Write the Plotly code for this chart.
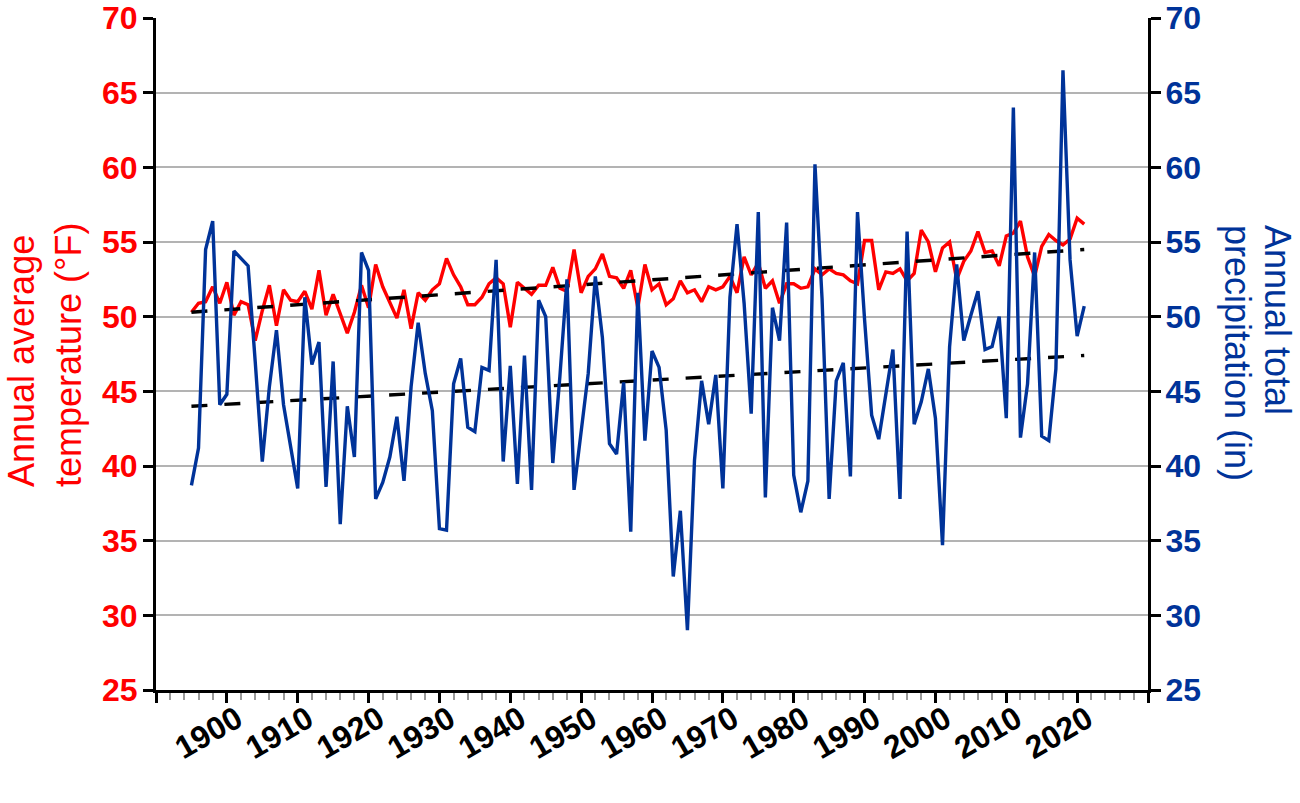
import plotly.graph_objects as go

# Annual values
years = list(range(1895, 2022))

temperature = [
    50.3, 50.9, 51.0, 52.0, 50.9, 52.3, 50.1, 51.0, 50.8, 48.4,
    50.4, 52.1, 49.4, 51.8, 51.1, 51.0, 51.7, 50.5, 53.1, 50.1,
    51.5, 50.2, 48.9, 50.3, 52.1, 50.6, 53.5, 52.0, 51.0, 49.9,
    51.8, 49.2, 51.6, 51.1, 51.8, 52.2, 53.9, 52.8, 52.0, 50.8,
    50.8, 51.3, 52.2, 52.6, 52.2, 49.3, 52.3, 51.9, 51.5, 52.1,
    52.1, 53.3, 51.9, 51.7, 54.5, 51.6, 52.7, 53.2, 54.2, 52.7,
    52.6, 51.9, 53.1, 50.6, 53.5, 51.8, 52.2, 50.8, 51.2, 52.4,
    51.6, 51.8, 51.0, 52.0, 51.8, 52.0, 52.7, 51.6, 54.0, 52.8,
    53.6, 51.9, 52.4, 50.9, 52.2, 52.2, 51.9, 52.0, 53.2, 52.8,
    53.2, 52.9, 52.8, 52.4, 52.2, 55.1, 55.1, 51.8, 53.0, 52.9,
    53.2, 52.4, 52.9, 55.8, 55.0, 53.0, 54.6, 55.0, 52.5, 53.7,
    54.4, 55.7, 54.3, 54.4, 53.4, 55.4, 55.6, 56.4, 54.0, 52.7,
    54.7, 55.5, 55.1, 54.8, 55.2, 56.6, 56.2,
]

precipitation = [
    38.7, 41.2, 54.5, 56.4, 44.1, 44.8, 54.4, 53.9, 53.4, 47.0,
    40.3, 45.3, 49.1, 44.1, 41.3, 38.5, 51.3, 46.8, 48.3, 38.6,
    47.0, 36.1, 44.0, 40.6, 54.3, 53.1, 37.8, 38.9, 40.6, 43.3,
    39.0, 45.3, 49.6, 46.2, 43.7, 35.8, 35.7, 45.5, 47.2, 42.6,
    42.3, 46.6, 46.4, 53.8, 40.3, 46.7, 38.8, 47.4, 38.4, 51.1,
    50.0, 40.2, 46.0, 52.5, 38.4, 42.4, 46.2, 52.7, 48.6, 41.5,
    40.8, 45.6, 35.6, 51.6, 41.7, 47.7, 46.6, 42.4, 32.6, 37.0,
    29.0, 40.4, 45.7, 42.8, 46.1, 38.5, 51.3, 56.2, 50.9, 43.5,
    57.0, 37.9, 50.6, 48.4, 56.3, 39.4, 36.9, 39.0, 60.2, 51.2,
    37.8, 45.7, 46.9, 39.3, 57.0, 49.8, 43.4, 41.8, 44.9, 47.8,
    37.8, 55.7, 42.8, 44.3, 46.5, 43.2, 34.7, 48.0, 53.5, 48.4,
    50.1, 51.7, 47.8, 48.0, 50.0, 43.2, 64.0, 41.9, 45.5, 54.3,
    42.0, 41.7, 46.5, 66.5, 53.8, 48.7, 50.7,
]

trend_years = [1895, 2021]
temperature_trend = [50.3, 54.5]
precipitation_trend = [44.0, 47.4]

value_ticks = list(range(25, 75, 5))
year_ticks = list(range(1890, 2040, 10))
year_labels = ["" if y in (1890, 2030) else str(y) for y in year_ticks]

RED = "#FF0000"
BLUE = "#003399"
FONT = "Liberation Sans"

fig = go.Figure()

fig.add_trace(go.Scatter(x=years, y=precipitation, mode="lines", yaxis="y2",
                         line=dict(color=BLUE, width=3.4)))
fig.add_trace(go.Scatter(x=years, y=temperature, mode="lines",
                         line=dict(color=RED, width=3.4)))
fig.add_trace(go.Scatter(x=trend_years, y=temperature_trend, mode="lines",
                         line=dict(color="black", width=3.4, dash="16px,17px")))
fig.add_trace(go.Scatter(x=trend_years, y=precipitation_trend, mode="lines",
                         line=dict(color="black", width=3.4, dash="16px,17px")))

fig.update_layout(
    width=1300,
    height=803,
    margin=dict(l=156, r=152, t=18, b=113),
    paper_bgcolor="white",
    plot_bgcolor="white",
    showlegend=False,
    font=dict(family=FONT),
    xaxis=dict(
        range=[1890, 2030],
        tickvals=year_ticks,
        ticktext=year_labels,
        tickangle=-30,
        ticks="outside",
        ticklen=10,
        tickwidth=3,
        tickcolor="black",
        tickfont=dict(family=FONT, size=32, color="black", weight="bold"),
        ticklabelstandoff=-15,
        ticklabelshift=10,
        showline=True,
        linecolor="black",
        linewidth=3,
        showgrid=False,
        zeroline=False,
        automargin=False,
        minor=dict(dtick=2, tick0=1890, ticks="outside", ticklen=7, tickwidth=1.5, tickcolor="#999999"),
    ),
    yaxis=dict(
        range=[25, 70],
        tickvals=value_ticks,
        ticks="outside",
        ticklen=10,
        tickwidth=3,
        tickcolor="black",
        tickfont=dict(family=FONT, size=32, color=RED, weight="bold"),
        ticklabelstandoff=-1,
        ticklabeloverflow="allow",
        showline=True,
        linecolor="black",
        linewidth=3,
        showgrid=True,
        gridcolor="#B3B3B3",
        gridwidth=2,
        zeroline=False,
        automargin=False,
    ),
    yaxis2=dict(
        range=[25, 70],
        overlaying="y",
        side="right",
        tickvals=value_ticks,
        ticks="outside",
        ticklen=10,
        tickwidth=3,
        tickcolor="black",
        tickfont=dict(family=FONT, size=32, color=BLUE, weight="bold"),
        ticklabelstandoff=-2,
        ticklabeloverflow="allow",
        showline=True,
        linecolor="black",
        linewidth=3,
        showgrid=False,
        zeroline=False,
        automargin=False,
    ),
)

# Axis titles placed by hand so they don't push the plot area around
fig.add_annotation(text="Annual average<br>temperature (°F)", textangle=-90, align="left",
                   xref="paper", yref="paper", x=0, y=0.4985, xanchor="center", yanchor="middle",
                   xshift=-111, showarrow=False,
                   font=dict(family=FONT, size=36, color=RED))
# right title lines sit closer together than plotly's line height, so two annotations
fig.add_annotation(text="Annual total", textangle=90,
                   xref="paper", yref="paper", x=1, y=0.695, xanchor="center", yanchor="top",
                   xshift=129, showarrow=False,
                   font=dict(family=FONT, size=36, color=BLUE))
fig.add_annotation(text="precipitation (in)", textangle=90,
                   xref="paper", yref="paper", x=1, y=0.695, xanchor="center", yanchor="top",
                   xshift=89, showarrow=False,
                   font=dict(family=FONT, size=36, color=BLUE))

# drop the browser's default page margin so the figure sits at the window corner
fig.write_html("out.html", config={"displayModeBar": False},
               post_script="document.body.style.margin = '0';")
